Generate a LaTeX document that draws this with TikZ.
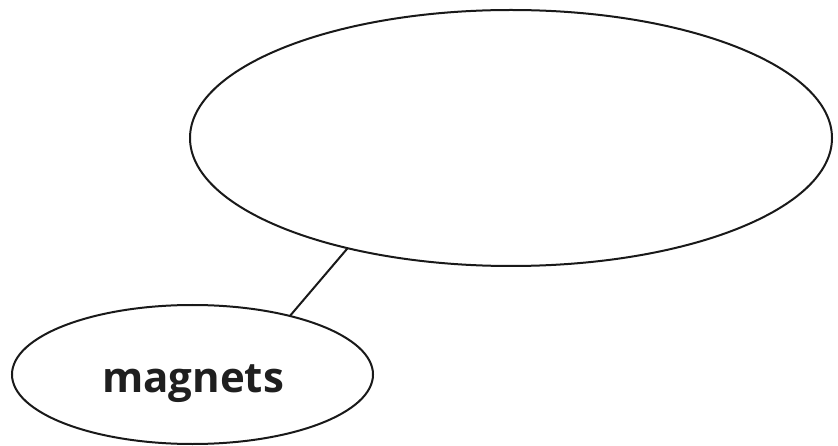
\documentclass[tikz,border=0pt]{standalone}
\usepackage{fontspec}
\setmainfont{Open Sans}
\usetikzlibrary{shapes.geometric}
\begin{document}
\begin{tikzpicture}[x=1pt,y=-1pt,
  bubble/.style={draw=black!90,line width=2pt,ellipse,inner sep=0pt,outer sep=0pt},
  link/.style={draw=black!90,line width=2pt},
  label text/.style={font=\fontsize{42}{48}\selectfont\bfseries,text=black!88,inner sep=0pt,anchor=base}]
\useasboundingbox (0,0) rectangle (838,446);
\node[bubble,minimum width=642pt,minimum height=256pt] (top) at (511,138) {};
\node[bubble,minimum width=361pt,minimum height=139pt] (mag) at (192.5,374.5) {};
\node[label text] (magtext) at (193,392) {magnets};
\draw[link] (top.214.9) -- (mag.31.4);
\end{tikzpicture}
\end{document}
